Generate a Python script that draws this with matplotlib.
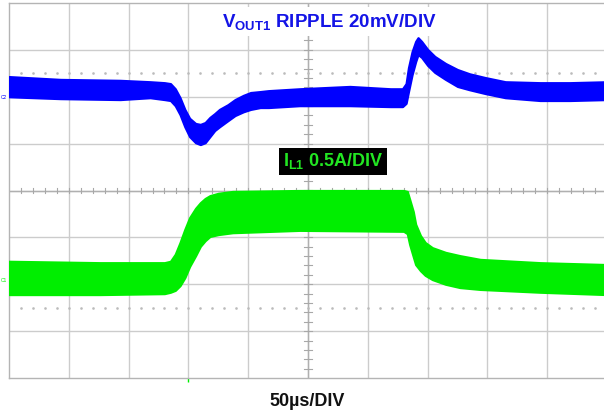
import numpy as np
import matplotlib
matplotlib.use('Agg')
import matplotlib.pyplot as plt

plt.rcParams['font.family'] = ['Liberation Sans', 'DejaVu Sans']
plt.rcParams['mathtext.fontset'] = 'custom'
plt.rcParams['mathtext.rm'] = 'Liberation Sans:bold'
plt.rcParams['mathtext.bf'] = 'Liberation Sans:bold'
plt.rcParams['mathtext.it'] = 'Liberation Sans:bold'

# time axis in us, 50us/div, 10 divisions
t_blue = [0, 43, 93, 118, 130, 135, 139, 143, 147, 151, 156, 160, 164, 168, 172, 176, 183, 189,
          196, 202, 210, 217, 243, 285, 319, 329, 332, 334, 337, 340, 342, 345, 350, 356, 365,
          375, 385, 398, 415, 444, 469, 500]
# VOUT1 ripple band (screen divisions, 20mV/div), upper / lower envelope
vout_hi = [2.43, 2.37, 2.35, 2.32, 2.30, 2.28, 2.17, 1.98, 1.73, 1.54, 1.43, 1.41, 1.45, 1.56,
           1.64, 1.73, 1.83, 1.94, 2.03, 2.09, 2.11, 2.13, 2.17, 2.22, 2.17, 2.17, 2.28, 2.62,
           2.96, 3.18, 3.26, 3.18, 3.01, 2.86, 2.71, 2.58, 2.49, 2.41, 2.32, 2.30, 2.30, 2.32]
vout_lo = [2.00, 1.96, 1.94, 1.98, 1.94, 1.92, 1.81, 1.62, 1.36, 1.15, 1.02, 0.98, 1.02, 1.15,
           1.28, 1.36, 1.49, 1.60, 1.68, 1.73, 1.77, 1.77, 1.81, 1.81, 1.79, 1.79, 1.86, 2.11,
           2.47, 2.75, 2.90, 2.84, 2.67, 2.52, 2.37, 2.22, 2.15, 2.07, 1.98, 1.92, 1.92, 1.94]

t_green = [0, 76, 130, 135, 139, 143, 147, 151, 156, 160, 164, 168, 175, 187, 243, 330, 333,
           335, 338, 340, 344, 348, 354, 365, 377, 394, 444, 500]
# IL1 band (screen divisions, 0.5A/div)
il_hi = [-1.51, -1.54, -1.54, -1.51, -1.36, -1.11, -0.83, -0.58, -0.38, -0.26, -0.17, -0.11,
         -0.06, -0.02, 0.00, 0.00, -0.02, -0.19, -0.45, -0.72, -0.96, -1.11, -1.22, -1.32,
         -1.39, -1.47, -1.54, -1.58]
il_lo = [-2.22, -2.22, -2.20, -2.17, -2.13, -2.03, -1.86, -1.62, -1.39, -1.19, -1.07, -0.98,
         -0.94, -0.90, -0.85, -0.87, -0.92, -1.15, -1.41, -1.58, -1.71, -1.81, -1.90, -2.00,
         -2.07, -2.11, -2.17, -2.22]

blue = '#0000ff'
green = '#00ee00'
grid_c = '#cccccc'

fig = plt.figure(figsize=(6.04, 4.12), dpi=100)
ax = fig.add_axes([9 / 604, 34 / 412, 598 / 604, 375 / 412])
ax.set_xlim(0, 500)
ax.set_ylim(-4, 4)
ax.set_xticks([])
ax.set_yticks([])
for s in ax.spines.values():
    s.set_color('#b4b4b4')
    s.set_linewidth(1.0)

# graticule
for xv in np.arange(50, 500, 50):
    ax.axvline(xv, color=grid_c, lw=1.0, zorder=0)
for yv in np.arange(-3, 4, 1):
    ax.axhline(yv, color=grid_c, lw=1.0, zorder=0)
ax.axhline(0, color='#b0b0b0', lw=1.0, zorder=0)
ax.axvline(250, color='#b0b0b0', lw=1.0, zorder=0)
# minor ticks on centre lines
for xm in np.arange(10, 500, 10):
    ax.plot([xm, xm], [-0.06, 0.06], color='#a8a8a8', lw=0.8, zorder=0)
for ym in np.arange(-3.8, 4, 0.2):
    ax.plot([247, 253], [ym, ym], color='#a8a8a8', lw=0.8, zorder=0)
# dotted reference rows
dots = np.arange(10, 500, 10)
for yd in (2.5, -2.5):
    ax.plot(dots, np.full(len(dots), yd), ls='none', marker='s', ms=0.8,
            color='#bbbbbb', zorder=0)

# traces
ax.fill_between(t_blue, vout_lo, vout_hi, color=blue, lw=1.6, edgecolor=blue, zorder=3)
ax.fill_between(t_green, il_lo, il_hi, color=green, lw=1.6, edgecolor=green, zorder=3)

# channel markers
ax.text(-1.5, 1.98, 'C2', color=blue, fontsize=3.5, ha='right', va='center', clip_on=False)
ax.text(-1.5, -1.93, 'C1', color=green, fontsize=3.5, ha='right', va='center', clip_on=False)
ax.plot([150], [-4.05], marker='|', color=green, ms=3, clip_on=False)

# labels
ax.text(268, 3.6, r'$\mathbf{V_{OUT1}}$ RIPPLE 20mV/DIV', color='#1414e6', fontsize=13.5,
        fontweight='bold', ha='center', va='center', zorder=5,
        bbox=dict(boxstyle='square,pad=0.25', fc='white', ec='none'))
ax.text(271, 0.62, r'$\mathbf{I_{L1}}$ 0.5A/DIV', color='#22e622', fontsize=13,
        fontweight='bold', ha='center', va='center', zorder=5,
        bbox=dict(boxstyle='square,pad=0.2', fc='black', ec='none'))
fig.text(307 / 604, 1 - 401 / 412, '50µs/DIV', color='#111111', fontsize=13,
         fontweight='bold', ha='center', va='center')

fig.savefig('out.png', dpi=100)
